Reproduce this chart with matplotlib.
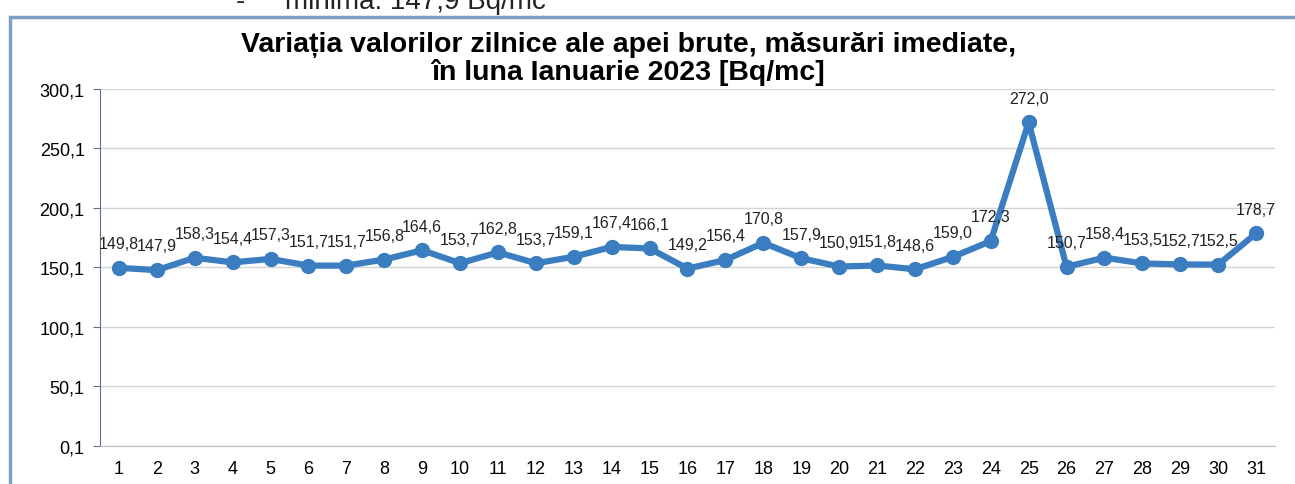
import matplotlib.pyplot as plt
from matplotlib.patches import Rectangle

plt.rcParams['font.family'] = ['Liberation Sans', 'DejaVu Sans']

days = list(range(1, 32))
values = [149.8, 147.9, 158.3, 154.4, 157.3, 151.7, 151.7, 156.8, 164.6, 153.7,
          162.8, 153.7, 159.1, 167.4, 166.1, 149.2, 156.4, 170.8, 157.9, 150.9,
          151.8, 148.6, 159.0, 172.3, 272.0, 150.7, 158.4, 153.5, 152.7, 152.5,
          178.7]
yticks = [0.1, 50.1, 100.1, 150.1, 200.1, 250.1, 300.1]
title = 'Variația valorilor zilnice ale apei brute, măsurări imediate,\nîn luna Ianuarie 2023 [Bq/mc]'

def fmt(v):
    return ('%.1f' % v).replace('.', ',')

fig = plt.figure(figsize=(12.95, 4.85), dpi=100)

# page text cut off at the top of the scan
fig.text(236 / 1295, 1 - 9 / 485, '-', fontsize=20, va='baseline', color='#222222')
fig.text(285 / 1295, 1 - 9 / 485, 'minima: 147,9 Bq/mc', fontsize=20, va='baseline', color='#222222')

# chart frame
fig.patches.append(Rectangle((10 / 1295, -0.01), 1.0, 1 - 18 / 485 + 0.01,
                             transform=fig.transFigure, fill=False,
                             edgecolor='#7f9fc4', linewidth=2.5))

ax = fig.add_axes([100 / 1295, 1 - 447 / 485, 1175 / 1295, 357 / 485])
ax.plot(days, values, color='#3a7dc0', linewidth=4.5, marker='o', markersize=10,
        markerfacecolor='#3a7dc0', markeredgecolor='#3a7dc0', zorder=3)

for d, v in zip(days, values):
    ax.annotate(fmt(v), (d, v), xytext=(0, 12), textcoords='offset points',
                ha='center', va='bottom', fontsize=11.5, color='#222222')

ax.set_xlim(0.5, 31.5)
ax.set_ylim(0.1, 300.1)
ax.set_yticks(yticks)
ax.set_yticklabels([fmt(t) for t in yticks], fontsize=13)
ax.set_xticks(days)
ax.set_xticklabels([str(d) for d in days], fontsize=13)
ax.tick_params(axis='x', length=0, pad=10)
ax.tick_params(axis='y', length=5, color='#5a6f8a', pad=6)
ax.grid(axis='y', color='#d4d4d4', linewidth=1)
ax.set_axisbelow(True)
for s in ['top', 'right']:
    ax.spines[s].set_visible(False)
ax.spines['left'].set_color('#5a6f8a')
ax.spines['bottom'].set_color('#bfbfbf')

fig.text(0.485, 1 - 59 / 485, title, ha='center', va='center', fontsize=20.5,
         fontweight='bold', linespacing=1.05)

fig.savefig('out.png', dpi=100)
